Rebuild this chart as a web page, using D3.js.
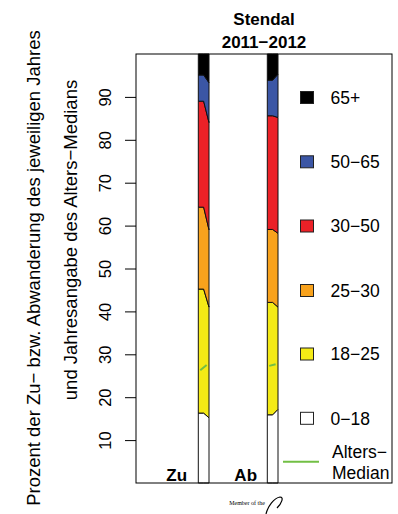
<!DOCTYPE html>
<html>
<head>
<meta charset="utf-8">
<script src="https://cdn.jsdelivr.net/npm/d3@7"></script>
<style>
  html, body { margin: 0; padding: 0; background: #fff; }
  svg { display: block; font-family: "Liberation Sans", Arial, sans-serif; }
</style>
</head>
<body>
<svg id="chart" width="398" height="514"></svg>
<script>
// ---- data ----
const categories = ["Zu", "Ab"];
const years = ["2011", "2012"];
const ageGroups = ["0−18", "18−25", "25−30", "30−50", "50−65", "65+"];
// share (%) of each age group, per category and year
const zu2011 = [16.3, 28.9, 19.1, 24.7, 6.1, 4.9];
const zu2012 = [15.2, 25.8, 18.0, 25.0, 9.3, 6.7];
const ab2011 = [15.9, 26.2, 17.0, 26.5, 8.3, 6.1];
const ab2012 = [17.2, 23.8, 17.2, 27.0, 10.1, 4.7];
// age median expressed on the percent axis (2011, 2012)
const medianZu = [26.3, 27.5];
const medianAb = [27.3, 27.7];
const yTicks = [10, 20, 30, 40, 50, 60, 70, 80, 90];
const groupColors = ["#FFFFFF", "#F4EA16", "#F8A21C", "#EC2127", "#3B56A5", "#000000"];
const medianColor = "#72BF44";

const shares = { Zu: [zu2011, zu2012], Ab: [ab2011, ab2012] };
const medians = { Zu: medianZu, Ab: medianAb };

// ---- layout ----
const svg = d3.select("#chart");
const plot = { left: 136, right: 392, top: 54, bottom: 483 };

const y = d3.scaleLinear().domain([0, 100]).range([plot.bottom, plot.top]);
const band = d3.scaleBand().domain(categories).range([plot.left, plot.left + 138]);
const bw = band.bandwidth();
const barOff = 0.903 * bw, barW = 0.155 * bw;

// stacks per category/year
function stackFor(cat) {
  const rows = years.map((yr, i) => {
    const o = { year: yr };
    ageGroups.forEach((g, j) => o[g] = shares[cat][i][j]);
    return o;
  });
  return d3.stack().keys(ageGroups)(rows);
}

const g = svg.append("g");

categories.forEach(cat => {
  const st = stackFor(cat);
  const x0 = band(cat) + barOff, x1 = x0 + barW, xm = (x0 + x1) / 2;
  st.forEach((layer, j) => {
    const a = layer[0], b = layer[1];
    const top0 = j === ageGroups.length - 1 ? 100 : a[1];
    const top1 = j === ageGroups.length - 1 ? 100 : b[1];
    const pts = [
      [x0, y(a[0])], [xm, y(a[0])], [x1, y(b[0])],
      [x1, y(top1)], [xm, y(top0)], [x0, y(top0)]
    ];
    g.append("path")
      .attr("d", d3.line()(pts) + "Z")
      .attr("fill", groupColors[j])
      .attr("stroke", "#111")
      .attr("stroke-width", 1)
      .attr("stroke-linejoin", "round");
  });
  // median line
  const m = medians[cat];
  g.append("line")
    .attr("x1", x0 + 0.18 * barW).attr("y1", y(m[0]))
    .attr("x2", x0 + 0.78 * barW).attr("y2", y(m[1]))
    .attr("stroke", medianColor).attr("stroke-width", 2);
  // category label
  svg.append("text")
    .attr("x", band(cat) + 0.59 * bw).attr("y", plot.bottom - 2)
    .attr("text-anchor", "middle")
    .attr("font-weight", "bold").attr("font-size", 17)
    .text(cat);
});

// plot box
svg.append("rect")
  .attr("x", plot.left).attr("y", plot.top)
  .attr("width", plot.right - plot.left).attr("height", plot.bottom - plot.top)
  .attr("fill", "none").attr("stroke", "#000").attr("stroke-width", 1);

// y axis
const yAxis = d3.axisLeft(y).tickValues(yTicks).tickSize(11).tickPadding(0).tickSizeOuter(0);
const ag = svg.append("g").attr("transform", `translate(${plot.left},0)`).call(yAxis);
ag.select(".domain").remove();
ag.selectAll(".tick line").attr("stroke", "#000");
ag.selectAll(".tick text")
  .attr("x", 0).attr("dy", null).attr("y", 0)
  .attr("transform", "translate(-25,0) rotate(-90)")
  .attr("text-anchor", "middle")
  .attr("font-size", 16.5)
  .attr("font-family", "Liberation Sans, Arial, sans-serif")
  .attr("fill", "#000");

// y axis title
svg.append("text")
  .attr("transform", "translate(40,268) rotate(-90)")
  .attr("text-anchor", "middle").attr("font-size", 18.5)
  .text("Prozent der Zu− bzw. Abwanderung des jeweiligen Jahres");
svg.append("text")
  .attr("transform", "translate(77,240) rotate(-90)")
  .attr("text-anchor", "middle").attr("font-size", 18.5)
  .text("und Jahresangabe des Alters−Medians");

// title
const cx = (plot.left + plot.right) / 2;
svg.append("text").attr("x", cx).attr("y", 25).attr("text-anchor", "middle")
  .attr("font-weight", "bold").attr("font-size", 17).text("Stendal");
svg.append("text").attr("x", cx).attr("y", 48).attr("text-anchor", "middle")
  .attr("font-weight", "bold").attr("font-size", 17).text(years[0] + "−" + years[1]);

// legend
const legendY = [418.3, 354, 290.5, 226, 161.8, 97.5];
const lg = svg.append("g");
ageGroups.forEach((grp, j) => {
  lg.append("rect")
    .attr("x", 300.5).attr("y", legendY[j] - 6).attr("width", 13).attr("height", 12)
    .attr("fill", groupColors[j]).attr("stroke", "#222").attr("stroke-width", 1);
  lg.append("text")
    .attr("x", 330.5).attr("y", legendY[j] + 6.3)
    .attr("font-size", 17.5).text(grp);
});
lg.append("line").attr("x1", 283).attr("x2", 319).attr("y1", 461.7).attr("y2", 461.7)
  .attr("stroke", medianColor).attr("stroke-width", 2);
lg.append("text").attr("x", 332).attr("y", 457.5).attr("font-size", 17.5).text("Alters−");
lg.append("text").attr("x", 332).attr("y", 479).attr("font-size", 17.5).text("Median");

// footer mark
svg.append("text").attr("x", 247).attr("y", 505).attr("text-anchor", "middle")
  .attr("font-family", "Liberation Serif, serif").attr("font-size", 6).text("Member of the");
svg.append("path")
  .attr("d", "M266,514 C268,506 274,498 280,497 C284,497 282,503 277,508")
  .attr("fill", "none").attr("stroke", "#000").attr("stroke-width", 1.2);
</script>
</body>
</html>
